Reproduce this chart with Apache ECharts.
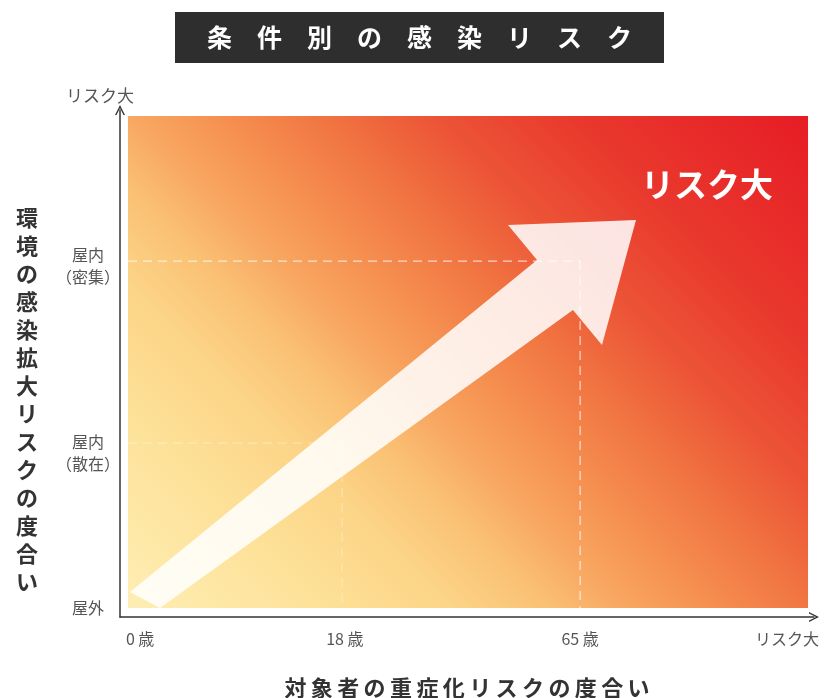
<!DOCTYPE html>
<html><head><meta charset="utf-8">
<script src="https://cdn.jsdelivr.net/npm/echarts@6/dist/echarts.min.js"></script>
<style>html,body{margin:0;padding:0;background:#fff;}#c{width:827px;height:698px;}</style>
</head><body><div id="c"></div>
<script>
// ---- data ----
const chartTitle = '条件別の感染リスク';
const xAxisTitle = '対象者の重症化リスクの度合い';
const yAxisTitle = '環境の感染拡大リスクの度合い';
const axisEndLabel = 'リスク大';
const xTickLabels = ['0 歳', '18 歳', '65 歳', 'リスク大'];
const xTickValues = [2.9, 32.4, 66.3, 96.1];
const yTickLabels = ['屋外', '屋内\n（散在）', '屋内\n（密集）'];
const yTickValues = [1.8, 32.4, 69.2];
const guideX = [32.0, 66.3];
const guideY = [34.3, 70.2];
const fieldCorners = [[1.15, 1.78], [99.14, 98.82]];
const arrowOutline = [[1.44, 4.93], [60.09, 70.41], [55.91, 77.32], [74.35, 78.30], [69.45, 53.65], [65.27, 60.55], [5.76, 1.78]];
const highRiskText = ['リスク大'];
const highRiskPoint = [[84.6, 85.4]];

const FONT = '"Noto Sans CJK JP", "Noto Sans", sans-serif';
const chevron = 'path://M0,12L6,0L12,12L10.2,12L6,3.6L1.8,12Z';
const spaced = (s, sep) => s.split('').join(sep);

const chart = echarts.init(document.getElementById('c'), null, {renderer: 'canvas'});

const fieldGradient = new echarts.graphic.LinearGradient(0, 1, 0.862, -0.191, [
  {offset: 0, color: '#feeeb4'},
  {offset: 0.18, color: '#fde096'},
  {offset: 0.28, color: '#fcd487'},
  {offset: 0.36, color: '#fac073'},
  {offset: 0.42, color: '#f8a862'},
  {offset: 0.5, color: '#f58f50'},
  {offset: 0.58, color: '#f17642'},
  {offset: 0.68, color: '#ec5436'},
  {offset: 0.8, color: '#e9382d'},
  {offset: 1, color: '#e71c25'}
]);

const guideAlpha = [0.35, 0.7];

chart.setOption({
  animation: false,
  textStyle: {fontFamily: FONT},
  title: [
    {
      text: spaced(chartTitle, '\u3000'),
      left: 175, top: 12,
      backgroundColor: '#2e2e2e',
      padding: [10, 32, 10, 32],
      textStyle: {color: '#fff', fontSize: 25, fontWeight: 'bold', lineHeight: 31, fontFamily: FONT}
    },
    {
      text: spaced(yAxisTitle, '\n'),
      left: 11, top: 199,
      textStyle: {color: '#333', fontSize: 22, fontWeight: 'bold', lineHeight: 28, fontFamily: FONT}
    }
  ],
  grid: {left: 120, right: 13, top: 110, bottom: 81, containLabel: false, outerBoundsMode: 'none'},
  xAxis: {
    type: 'value', min: 0, max: 100,
    axisLine: {show: true, symbol: ['none', chevron], symbolSize: [14, 10], lineStyle: {color: '#333', width: 1.5}},
    axisTick: {show: false},
    splitLine: {show: false},
    axisLabel: {
      customValues: xTickValues,
      formatter: v => { const i = xTickValues.indexOf(v); return i >= 0 ? xTickLabels[i] : ''; },
      fontSize: 16, color: '#555', margin: 14, fontFamily: FONT
    },
    name: spaced(xAxisTitle, '\u2009'), nameLocation: 'middle', nameGap: 60,
    nameTextStyle: {fontSize: 22, fontWeight: 'bold', color: '#333', fontFamily: FONT}
  },
  yAxis: {
    type: 'value', min: 0, max: 100,
    axisLine: {show: true, symbol: ['none', chevron], symbolSize: [14, 10], lineStyle: {color: '#333', width: 1.5}},
    axisTick: {show: false},
    splitLine: {show: false},
    axisLabel: {
      customValues: yTickValues,
      formatter: v => { const i = yTickValues.indexOf(v); return i >= 0 ? yTickLabels[i] : ''; },
      fontSize: 16, lineHeight: 22, color: '#555', margin: 32, align: 'center', fontFamily: FONT
    },
    name: axisEndLabel, nameLocation: 'end', nameGap: 6,
    nameTextStyle: {fontSize: 17, color: '#555', padding: [0, 40, 0, 0], fontFamily: FONT}
  },
  series: [
    {
      type: 'custom', name: 'field', z: 1,
      data: [fieldCorners[0].concat(fieldCorners[1])],
      renderItem: (params, api) => {
        const p0 = api.coord([api.value(0), api.value(1)]);
        const p1 = api.coord([api.value(2), api.value(3)]);
        return {type: 'rect', shape: {x: p0[0], y: p1[1], width: p1[0] - p0[0], height: p0[1] - p1[1]}, style: {fill: fieldGradient}};
      }
    },
    {
      type: 'custom', name: 'guides', z: 2,
      data: guideX.map((x, i) => [x, guideY[i]]),
      renderItem: (params, api) => {
        const pt = api.coord([api.value(0), api.value(1)]);
        const left = api.coord([fieldCorners[0][0], api.value(1)]);
        const bottom = api.coord([api.value(0), fieldCorners[0][1]]);
        const st = {stroke: 'rgba(255,255,255,' + guideAlpha[params.dataIndex] + ')', lineWidth: 1.2, lineDash: [9, 6]};
        return {type: 'group', children: [
          {type: 'line', shape: {x1: left[0], y1: pt[1], x2: pt[0], y2: pt[1]}, style: st},
          {type: 'line', shape: {x1: pt[0], y1: pt[1], x2: pt[0], y2: bottom[1]}, style: st}
        ]};
      }
    },
    {
      type: 'custom', name: 'arrow', z: 3,
      data: [0],
      renderItem: (params, api) => {
        const pts = arrowOutline.map(p => api.coord(p));
        return {type: 'polygon', shape: {points: pts}, style: {fill: 'rgba(255,255,255,0.86)'}};
      }
    },
    {
      type: 'custom', name: 'label', z: 4,
      data: highRiskPoint,
      renderItem: (params, api) => {
        const p = api.coord([api.value(0), api.value(1)]);
        return {type: 'text', x: p[0], y: p[1], style: {text: highRiskText[params.dataIndex], fill: '#fff', fontSize: 33, fontWeight: 'bold', fontFamily: FONT, align: 'center', verticalAlign: 'middle'}};
      }
    }
  ]
});
</script></body></html>
